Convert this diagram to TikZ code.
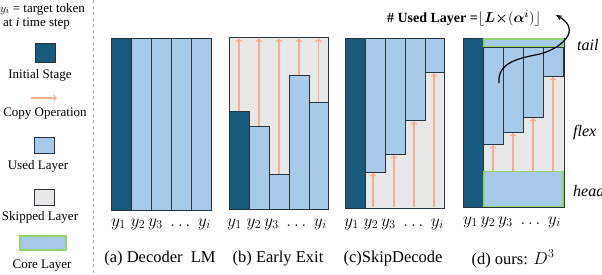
\documentclass[tikz,border=0pt]{standalone}
\usepackage{fontspec}
\setmainfont{LiberationSerif}[Extension=.ttf, UprightFont=*-Regular, ItalicFont=*-Italic, BoldFont=*-Bold, BoldItalicFont=*-BoldItalic]
\usepackage{bm}
\usetikzlibrary{arrows.meta}
\definecolor{initc}{HTML}{175A7C}
\definecolor{usedc}{HTML}{A7C9EA}
\definecolor{skipc}{HTML}{E8E8E8}
\definecolor{edgec}{HTML}{27343D}
\definecolor{corec}{HTML}{90D46C}
\definecolor{copyc}{HTML}{F4AE8C}
\begin{document}
\begin{tikzpicture}[x=1pt,y=-1pt,
  init/.style={fill=initc, draw=edgec, line width=0.8pt},
  used/.style={fill=usedc, draw=edgec, line width=0.8pt},
  skipl/.style={fill=skipc, draw=edgec, line width=0.8pt},
  core/.style={fill=usedc, draw=corec, line width=1.8pt},
  copyarr/.style={draw=copyc, line width=1.1pt, -{To[length=3.5pt,width=7pt]}},
  lab/.style={font=\fontsize{13}{15}\selectfont, inner sep=0pt},
  captext/.style={font=\fontsize{16.5}{19}\selectfont, inner sep=0pt},
  ylab/.style={font=\fontsize{17}{19}\selectfont, inner sep=0pt},
  side/.style={font=\fontsize{16}{18}\selectfont\itshape, inner sep=0pt, anchor=west},
]
\useasboundingbox (0,0) rectangle (602,274);
% ---------- legend ----------
\draw[gray!70, dashed, line width=0.6pt] (93,0) -- (93,274);
\node[lab, anchor=west] (l1) at (0,9) {$y_i$ = target token};
\node[lab, anchor=west] (l2) at (3,24) {at \textit{i} time step};
\draw[init] (35,43) rectangle (55,62);
\node[lab] (linit) at (40,75) {Initial Stage};
\coordinate (ca) at (31,98); \coordinate (cb) at (57,98);
\draw[copyarr] (ca) -- (cb);
\node[lab] (lcopy) at (45,114) {Copy Operation};
\draw[used] (34,137) rectangle (54,153);
\node[lab] (lused) at (38,166) {Used Layer};
\draw[skipl] (34,189) rectangle (54,205);
\node[lab] (lskip) at (40,217) {Skipped Layer};
\draw[core] (20,236) rectangle (66,250);
\node[lab] (lcore) at (42,266) {Core Layer};
% ---------- (a) ----------
\draw[init] (111,38) rectangle (131,210);
\foreach \x in {131,151,171,191} \draw[used] (\x,38) rectangle (\x+20,210);
\node[ylab] (ya) at (161,224) {$y_1\;y_2\,y_3\;\ldots\;y_i$};
\node[captext] (capa) at (160,259) {(a) Decoder\ \ LM};
% ---------- (b) ----------
\draw[skipl] (229,37) rectangle (328,209);
\draw[init] (229,111) rectangle (249,209);
\draw[used] (249,126) rectangle (269,209);
\draw[used] (269,174) rectangle (289,209);
\draw[used] (289,75) rectangle (309,209);
\draw[used] (309,102) rectangle (328,209);
\foreach \x/\y in {239/111,259/126,279/174,299/75,318.5/102}
  \draw[copyarr] (\x,\y) -- (\x,38.5);
\node[ylab] (yb) at (277,224) {$y_1\;y_2\,y_3\;\ldots\;y_i$};
\node[captext] (capb) at (278,259) {(b) Early Exit};
% ---------- (c) ----------
\draw[skipl] (345,38) rectangle (444,208);
\draw[init] (345,38) rectangle (365,208);
\draw[used] (365,38) rectangle (385,172);
\draw[used] (385,38) rectangle (405,154);
\draw[used] (405,38) rectangle (425,120);
\draw[used] (425,38) rectangle (444,72);
\foreach \x/\y in {373/172,394/154,414/120,434/72}
  \draw[copyarr] (\x,207) -- (\x,\y+1);
\node[ylab] (yc) at (394,224) {$y_1\;y_2\,y_3\;\ldots\;y_i$};
\node[captext] (capc) at (393,259) {(c)SkipDecode};
% ---------- (d) ----------
\draw[skipl] (463,38) rectangle (564,207);
\draw[used] (483,47) rectangle (503,144);
\draw[used] (503,47) rectangle (523,132);
\draw[used] (523,47) rectangle (543,117);
\draw[used] (543,47) rectangle (563,76);
\foreach \x/\y in {493/144,513/132,533/117,553/76}
  \draw[copyarr] (\x,171) -- (\x,\y+1);
\fill[usedc] (484,171.5) rectangle (563,206);
\fill[usedc] (484,39) rectangle (563,46.5);
\draw[init] (463,38) rectangle (483,207);
\draw[edgec, line width=0.8pt] (463,38) rectangle (564,207);
\draw[corec, line width=1.8pt] (484,171.5) rectangle (563.2,206.5);
\draw[corec, line width=1.8pt] (484,38.8) rectangle (563.2,46.5);
\node[ylab] (yd) at (512,222) {$y_1\,y_2\,y_3\;\ldots\;y_i$};
\node[captext] (capd) at (513,259) {(d) ours: $D^3$};
\node[side] (tail) at (577,45) {tail};
\node[side] (flex) at (573,133) {flex};
\node[side] (head) at (573,191) {head};
\node[font=\fontsize{14}{16}\selectfont\bfseries, inner sep=0pt] (title) at (464,18)
  {\# Used Layer =$\Big\lfloor \bm{L}{\bm{\times}}(\bm{\alpha}^{\bm{i}})\Big\rfloor$};
\coordinate (cs) at (499,83);
\coordinate (cm) at (540,54);
\coordinate (ce) at (556,15);
\draw[line width=1.2pt, -{Stealth[length=6pt,width=5pt]}]
  (cs) .. controls (497,62) and (520,58) .. (cm) .. controls (562,48) and (582,30) .. (ce);
\end{tikzpicture}
\end{document}
